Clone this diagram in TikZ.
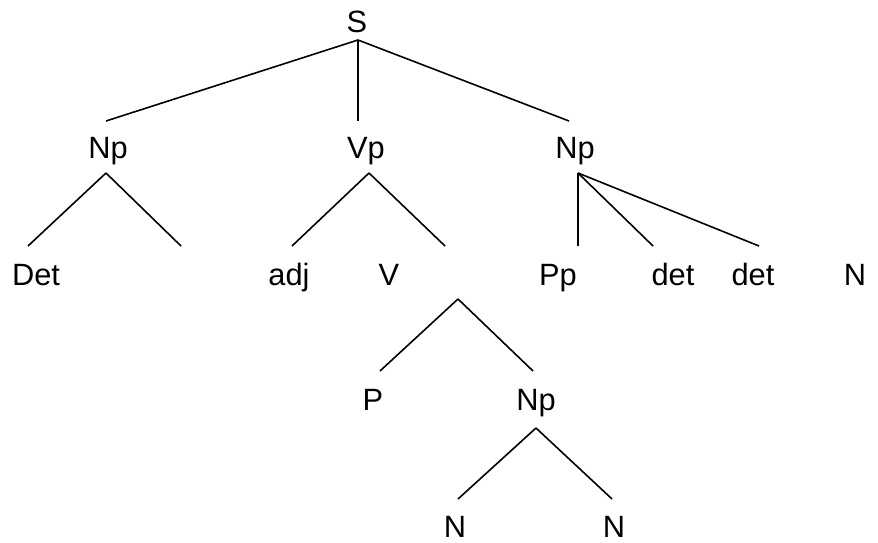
\documentclass[tikz,border=0pt]{standalone}
\usepackage{fontspec}
\setmainfont{Liberation Sans}
\begin{document}
\begin{tikzpicture}[x=0.5pt,y=-0.5pt,
  lab/.style={anchor=base,inner sep=0pt,font=\fontsize{15.4}{18}\selectfont},
  edge/.style={line width=0.8pt,line cap=butt}]
\useasboundingbox (0,0) rectangle (878,542);
% labels
\node[lab] (S) at (357,32) {S};
\node[lab] (np1) at (108,158) {Np};
\node[lab] (vp) at (366,158) {Vp};
\node[lab] (np2) at (575,158) {Np};
\node[lab] (det1) at (36,285) {Det};
\node[lab] (adj) at (289,285) {adj};
\node[lab] (v) at (389,285) {V};
\node[lab] (pp) at (558,285) {Pp};
\node[lab] (det2) at (673,285) {det};
\node[lab] (det3) at (753,285) {det};
\node[lab] (n1) at (855,285) {N};
\node[lab] (p) at (373,410) {P};
\node[lab] (np3) at (536,410) {Np};
\node[lab] (n2) at (455,537) {N};
\node[lab] (n3) at (614,537) {N};
% connector end points
\coordinate (S-t) at (358,40);
\coordinate (np1-b) at (106,121);
\coordinate (vp-b) at (358,121);
\coordinate (np2-b) at (569,121);
\coordinate (np1-t) at (106,173);
\coordinate (det1-b) at (28,246);
\coordinate (empty-b) at (181,246);
\coordinate (vp-t) at (369,173);
\coordinate (adj-b) at (292,246);
\coordinate (v-b) at (445,246);
\coordinate (np2-t) at (578,173);
\coordinate (pp-b) at (578,246);
\coordinate (det2-b) at (653,246);
\coordinate (det3-b) at (759,246);
\coordinate (sub-t) at (458,299);
\coordinate (p-b) at (380,371);
\coordinate (np3-b) at (533,371);
\coordinate (np3-t) at (536,428);
\coordinate (n2-b) at (458,499);
\coordinate (n3-b) at (612,499);
% connectors
\draw[edge] (S-t) -- (np1-b);
\draw[edge] (S-t) -- (vp-b);
\draw[edge] (S-t) -- (np2-b);
\draw[edge] (np1-t) -- (det1-b);
\draw[edge] (np1-t) -- (empty-b);
\draw[edge] (vp-t) -- (adj-b);
\draw[edge] (vp-t) -- (v-b);
\draw[edge] (np2-t) -- (pp-b);
\draw[edge] (np2-t) -- (det2-b);
\draw[edge] (np2-t) -- (det3-b);
\draw[edge] (sub-t) -- (p-b);
\draw[edge] (sub-t) -- (np3-b);
\draw[edge] (np3-t) -- (n2-b);
\draw[edge] (np3-t) -- (n3-b);
\end{tikzpicture}
\end{document}
